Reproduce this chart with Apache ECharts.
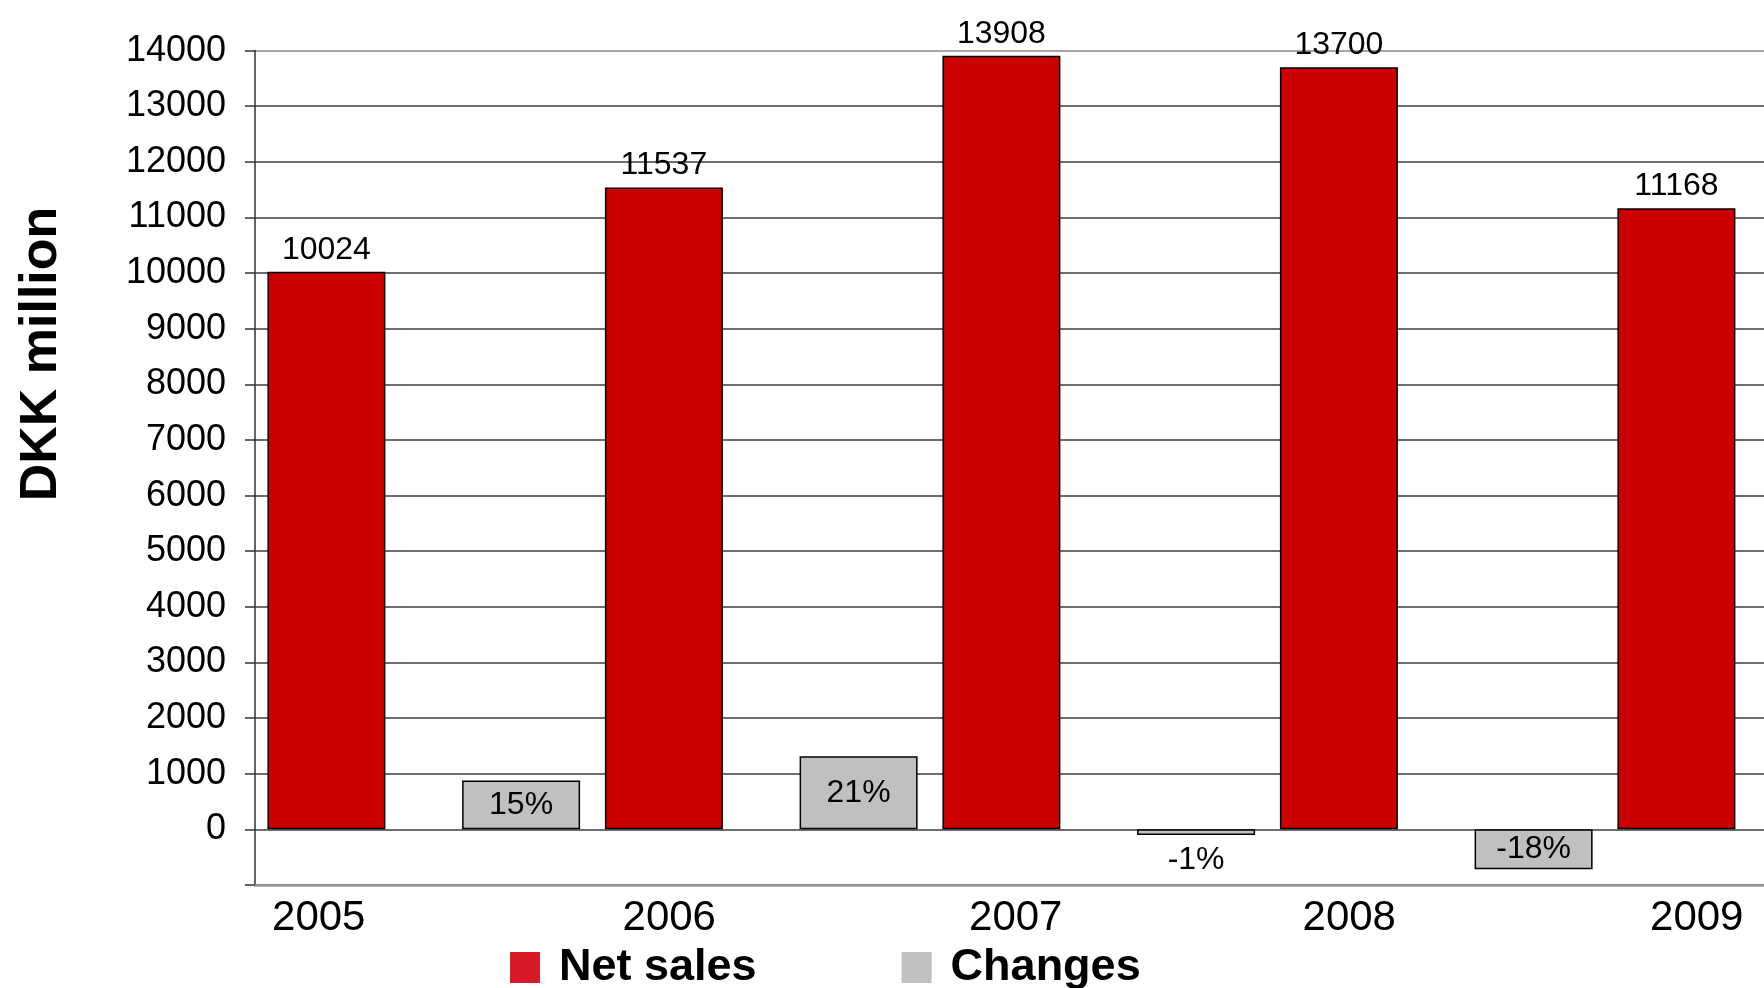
<!DOCTYPE html>
<html>
<head>
<meta charset="utf-8">
<script src="https://cdn.jsdelivr.net/npm/echarts@6/dist/echarts.min.js"></script>
<style>
  html, body { margin: 0; padding: 0; background: #fff; }
  #main { width: 1764px; height: 988px; }
</style>
</head>
<body>
<div id="main"></div>
<script>
// 数据
var years = ['2005', '2006', '2007', '2008', '2009'];
var netSales = [10024, 11537, 13908, 13700, 11168];
// 变化柱子在图上的高度（按左轴读取），标签为百分比
var changeBars = [880, 1315, -100, -715, null];
var changeLabels = ['15%', '21%', '-1%', '-18%', ''];
var yMin = -1000, yMax = 14000, yStep = 1000;

function salesChart(id) {
    var chart = echarts.init(document.getElementById(id));
    var font = "'Liberation Sans', Arial, sans-serif";
    var shift = [105, 92, 83, 87, 77];   // 年份标签左移
    var rich = {};
    for (var i = 0; i < shift.length; i++) {
        rich['s' + i] = { padding: [0, shift[i] * 2, 0, 0], fontSize: 42, fontFamily: font, color: '#000' };
    }
    var gridColors = [];
    for (var k = 0; k < 16; k++) gridColors.push(k === 15 ? '#8a8a8a' : '#3c3c3c');

    var changeData = [];
    for (var j = 0; j < changeBars.length; j++) {
        var item = { value: changeBars[j], label: { formatter: changeLabels[j] } };
        if (changeBars[j] !== null && Math.abs(changeBars[j]) < 400) {
            item.label.position = 'bottom';
            item.label.distance = 9;
        }
        changeData.push(item);
    }

    var option = {
        animation: false,
        textStyle: { fontFamily: font },
        grid: {
            left: 255, top: 50.6, width: 1687.5, height: 834.4,
            containLabel: false, outerBoundsMode: 'none'
        },
        legend: {
            left: 505, top: 940,
            itemWidth: 30, itemHeight: 31, itemGap: 145,
            icon: 'rect',
            itemStyle: { borderWidth: 0 },
            textStyle: { fontSize: 45, fontWeight: 'bold', color: '#000', fontFamily: font, padding: [0, 0, 0, 14] },
            data: [
                { name: 'Net sales', itemStyle: { color: '#d7192a', borderWidth: 0 } },
                { name: 'Changes', itemStyle: { color: '#c0c0c0', borderWidth: 0 } }
            ]
        },
        graphic: [{
            type: 'text',
            x: 42, y: 354,
            rotation: Math.PI / 2,
            style: {
                text: 'DKK million',
                font: "bold 52px 'Liberation Sans', Arial, sans-serif",
                fill: '#000',
                textAlign: 'center',
                textVerticalAlign: 'middle'
            }
        }],
        xAxis: {
            type: 'category',
            data: years,
            axisLine: { onZero: false, lineStyle: { color: '#9a9a9a', width: 2.5 } },
            axisTick: { show: false },
            axisLabel: {
                margin: 12,
                formatter: function (v, idx) { return '{s' + idx + '|' + v + '}'; },
                rich: rich
            },
            splitLine: { show: false }
        },
        yAxis: {
            type: 'value',
            min: yMin, max: yMax, interval: yStep,
            axisLine: { show: true, lineStyle: { color: '#333', width: 1.5 } },
            axisTick: { show: true, length: 10, lineStyle: { color: '#333', width: 1.5 } },
            axisLabel: {
                margin: 29, fontSize: 36, color: '#000', fontFamily: font,
                formatter: function (v) { return v < 0 ? '' : String(v); }
            },
            splitLine: { show: true, lineStyle: { color: gridColors, width: 1.5 } }
        },
        series: [
            {
                name: 'Net sales',
                type: 'bar',
                barWidth: 118,
                barGap: '65%',
                itemStyle: { color: '#cc0000', borderColor: '#000', borderWidth: 1.5 },
                label: { show: true, position: 'top', distance: 6, fontSize: 32, color: '#000', fontFamily: font },
                data: netSales
            },
            {
                name: 'Changes',
                type: 'bar',
                barWidth: 118,
                itemStyle: { color: '#c0c0c0', borderColor: '#000', borderWidth: 1.5 },
                label: { show: true, position: 'inside', fontSize: 32, color: '#000', fontFamily: font },
                data: changeData
            }
        ]
    };
    chart.setOption(option);
    return chart;
}

salesChart('main');
</script>
</body>
</html>
